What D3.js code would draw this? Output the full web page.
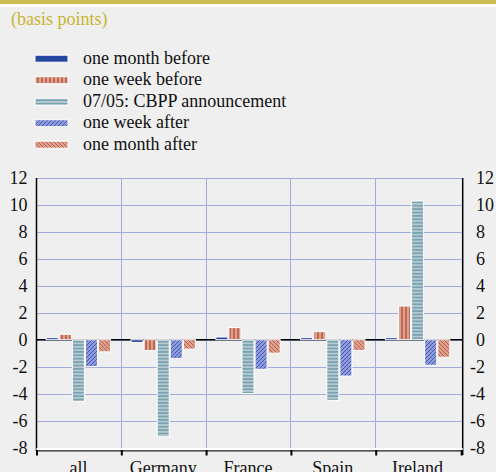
<!DOCTYPE html>
<html><head><meta charset="utf-8">
<script src="https://cdn.jsdelivr.net/npm/d3@7"></script>
<style>
html,body{margin:0;padding:0;background:#efefef;}
svg{display:block;}
text{font-family:"Liberation Serif","Times New Roman",serif;}
</style></head>
<body>
<script>
const categories = ["all","Germany","France","Spain","Ireland"];
const seriesNames = ["one month before","one week before","07/05: CBPP announcement","one week after","one month after"];
const monthBefore = [0.15,-0.2,0.2,0.15,0.15];
const weekBefore  = [0.4,-0.8,0.9,0.6,2.5];
const cbpp        = [-4.6,-7.2,-4.0,-4.5,10.3];
const weekAfter   = [-2.0,-1.4,-2.2,-2.7,-1.9];
const monthAfter  = [-0.9,-0.7,-1.0,-0.8,-1.3];
const yTicks = [12,10,8,6,4,2,0,-2,-4,-6,-8];
const unitLabel = "(basis points)";

const series = [monthBefore,weekBefore,cbpp,weekAfter,monthAfter];
const W=496,H=472;
const svg=d3.select("body").append("svg").attr("width",W).attr("height",H);
const defs=svg.append("defs");

function pat(id,w,h,bg,draw){
  const p=defs.append("pattern").attr("id",id).attr("patternUnits","userSpaceOnUse").attr("width",w).attr("height",h);
  p.append("rect").attr("width",w).attr("height",h).attr("fill",bg);
  draw(p);
}
pat("p0",4,4,"#2448a0",()=>{});
pat("p1",4,4,"#d9a38e",p=>p.append("rect").attr("x",1.5).attr("y",0).attr("width",1).attr("height",4).attr("fill","#b02a1c"));
pat("p2",4,3.4,"#b9c8d0",p=>p.append("rect").attr("x",0).attr("y",1.2).attr("width",4).attr("height",1).attr("fill","#4a8c9c"));
pat("p3",4,4,"#8f9ad8",p=>p.append("path").attr("d","M-1,1 L1,-1 M0,4 L4,0 M3,5 L5,3").attr("stroke","#2c48b0").attr("stroke-width",0.8));
pat("p4",4,4,"#d9a08e",p=>p.append("path").attr("d","M-1,3 L1,5 M0,0 L4,4 M3,-1 L5,1").attr("stroke","#c04a3c").attr("stroke-width",0.8));

svg.append("rect").attr("x",0).attr("y",0).attr("width",W).attr("height",4).attr("fill","#cdbd55");
svg.append("rect").attr("x",0).attr("y",4).attr("width",W).attr("height",3).attr("fill","#ffffff");
svg.append("text").attr("x",11).attr("y",25).attr("font-size",18).attr("fill","#c9b530").text(unitLabel);

const lg=svg.append("g");
seriesNames.forEach((n,i)=>{
  const cy=58.7+i*21.5;
  lg.append("rect").attr("x",35).attr("y",cy-3.5).attr("width",33).attr("height",7)
    .attr("fill",`url(#p${i})`).attr("stroke","#fff").attr("stroke-width",1);
  lg.append("text").attr("x",83).attr("y",cy+5).attr("font-size",18).attr("fill","#111").text(n);
});

const L=36.5,R=462.7,T=178,B=447.5;
const y=d3.scaleLinear().domain([-8,12]).range([B,T]);
const x0=d3.scaleBand().domain(categories).range([36,460]).padding(0);
const x1=d3.scaleBand().domain(d3.range(5)).range([0,x0.bandwidth()]).paddingInner(0.08).paddingOuter(0.78);

const grid=svg.append("g").attr("stroke","#a3abdd").attr("stroke-width",1);
yTicks.forEach(t=>grid.append("line").attr("x1",L).attr("x2",R).attr("y1",Math.round(y(t))+0.5).attr("y2",Math.round(y(t))+0.5));
categories.slice(1).forEach(c=>grid.append("line").attr("x1",Math.round(x0(c))+0.5).attr("x2",Math.round(x0(c))+0.5).attr("y1",T).attr("y2",450));

svg.append("line").attr("x1",L).attr("x2",R).attr("y1",y(0)).attr("y2",y(0)).attr("stroke","#000").attr("stroke-width",1.5);

const bars=svg.append("g");
categories.forEach((c,ci)=>{
  series.forEach((s,si)=>{
    const v=s[ci];
    bars.append("rect").attr("x",x0(c)+x1(si)).attr("width",x1.bandwidth())
      .attr("y",y(Math.max(0,v))).attr("height",Math.abs(y(v)-y(0)))
      .attr("fill",`url(#p${si})`).attr("stroke","#fff").attr("stroke-width",1);
  });
});

svg.append("line").attr("x1",L).attr("x2",L).attr("y1",T).attr("y2",451).attr("stroke","#000").attr("stroke-width",1.5);
svg.append("line").attr("x1",R).attr("x2",R).attr("y1",T).attr("y2",455).attr("stroke","#000").attr("stroke-width",1.5);
svg.append("line").attr("x1",L).attr("x2",R).attr("y1",449).attr("y2",449).attr("stroke","#fff").attr("stroke-width",2);
svg.append("line").attr("x1",L).attr("x2",R).attr("y1",450.8).attr("y2",450.8).attr("stroke","#222").attr("stroke-width",1.2);
categories.forEach(c=>{
  svg.append("line").attr("x1",x0(c)+1).attr("x2",x0(c)+1).attr("y1",450).attr("y2",455.5).attr("stroke","#000").attr("stroke-width",2);
});
svg.append("line").attr("x1",R-1).attr("x2",R-1).attr("y1",450).attr("y2",455.5).attr("stroke","#000").attr("stroke-width",2);

yTicks.forEach(t=>{
  svg.append("text").attr("x",27.5).attr("y",y(t)).attr("dy","0.34em").attr("text-anchor","end")
    .attr("font-size",18).attr("fill","#111").text(t);
  svg.append("text").attr("x",t<0?470:476).attr("y",y(t)).attr("dy","0.34em").attr("text-anchor","start")
    .attr("font-size",18).attr("fill","#111").text(t);
});
categories.forEach(c=>{
  svg.append("text").attr("x",x0(c)+x0.bandwidth()/2).attr("y",473.5).attr("text-anchor","middle")
    .attr("font-size",18).attr("fill","#111").text(c);
});
</script>
</body></html>
